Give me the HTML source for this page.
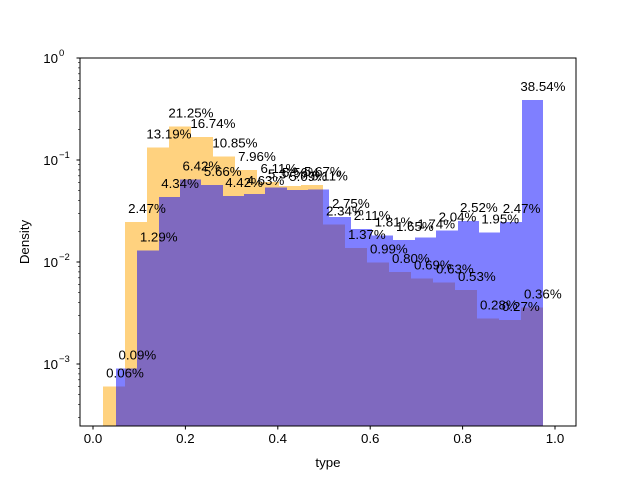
<!DOCTYPE html>
<html><head><meta charset="utf-8"><style>
body{margin:0;background:#fff}
svg{font-family:"Liberation Sans","DejaVu Sans",sans-serif}
</style></head><body>
<svg id="chart" width="640" height="480" viewBox="0 0 640 480">
<rect width="640" height="480" fill="#fff"/>
<g id="bars" shape-rendering="crispEdges"></g>
<g id="labels" font-size="13.3" fill="#000" text-anchor="middle"></g>
<rect x="80" y="58" width="496" height="368" fill="none" stroke="#000" stroke-width="1" shape-rendering="crispEdges"/>
<g id="axes" font-size="13.3" fill="#000"></g>
<text x="328" y="467" text-anchor="middle" font-size="13.3">type</text>
<text transform="translate(29,242) rotate(-90)" text-anchor="middle" font-size="13.3">Density</text>
</svg>
<script>
const orangeStart = 0.0216, orangeWidth = 0.0476;
const orangeValues = [0.06,2.47,13.19,21.25,16.74,10.85,7.96,6.11,5.56,5.67,2.34,1.37,0.99,0.80,0.69,0.63,0.53,0.28,0.27,0.36];
const blueStart = 0.0498, blueWidth = 0.0462;
const blueValues = [0.09,1.29,4.34,6.42,5.66,4.42,4.63,5.37,5.09,5.11,2.75,2.11,1.81,1.65,1.74,2.04,2.52,1.95,2.47,38.54];
const xTicks = [0.0,0.2,0.4,0.6,0.8,1.0];
const yTickExps = [0,-1,-2,-3];

const NS = "http://www.w3.org/2000/svg";
const L=80,R=576,T=58,B=426;
const xs = v => 93 + v*462;
const ys = frac => 58 - Math.log10(frac)*102;
function mk(tag, attrs, parent){const e=document.createElementNS(NS,tag);for(const k in attrs)e.setAttribute(k,attrs[k]);parent.appendChild(e);return e;}
const bars=document.getElementById('bars'), labels=document.getElementById('labels'), axes=document.getElementById('axes');
function series(vals,start,w,color,name){
  vals.forEach((p,i)=>{
    const x0=Math.round(xs(start+i*w)), x1=Math.round(xs(start+(i+1)*w)), y=ys(p/100);
    const r=mk('rect',{x:x0,y:y,width:x1-x0,height:B-y,fill:color,'fill-opacity':0.5},bars);
    
    
  });
}
function lbls(vals,start,w,name){
  vals.forEach((p,i)=>{
    const t=mk('text',{x:xs(start+(i+1)*w),y:ys(p/100)-9},labels);
    t.textContent=p.toFixed(2)+'%';
    
    
  });
}
series(orangeValues,orangeStart,orangeWidth,'#ffa500','orange');
series(blueValues,blueStart,blueWidth,'#0000ff','blue');
lbls(orangeValues,orangeStart,orangeWidth,'orange');
lbls(blueValues,blueStart,blueWidth,'blue');
xTicks.forEach(v=>{
  const x=xs(v);
  mk('line',{x1:x,x2:x,y1:B,y2:B+3.5,stroke:'#000'},axes);
  const t=mk('text',{x:x,y:B+17,'text-anchor':'middle'},axes);
  t.textContent=v.toFixed(1);
  
  
});
yTickExps.forEach(e=>{
  const y=ys(Math.pow(10,e));
  mk('line',{x1:L-3.5,x2:L,y1:y,y2:y,stroke:'#000'},axes);
  const t=mk('text',{x:L-22,y:y+5,'text-anchor':'end'},axes);
  t.textContent='10';
  
  
  const s=mk('text',{x:L-21,y:y-2,'font-size':'9.5','text-anchor':'start'},axes);
  s.textContent=String(e).replace('-','\u2212');
  
  
});
for(let e=-4;e<0;e++){for(let m=2;m<10;m++){const y=ys(m*Math.pow(10,e));if(y>=T&&y<=B)mk('line',{x1:L-2,x2:L,y1:y,y2:y,stroke:'#000','stroke-width':0.6},axes);}}
</script>
</body></html>
